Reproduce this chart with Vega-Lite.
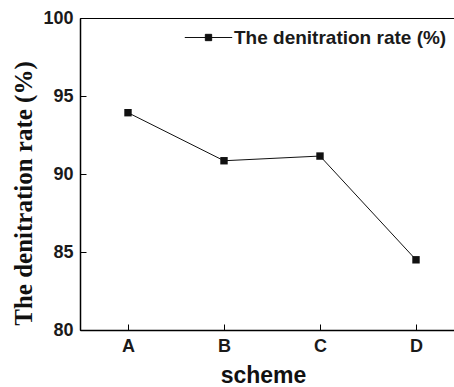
{
  "$schema": "https://vega.github.io/schema/vega-lite/v6.json",
  "width": 384,
  "height": 312,
  "autosize": {"type": "none"},
  "padding": {"left": 80, "top": 18, "right": 0, "bottom": 57},
  "background": "white",
  "config": {
    "view": {"stroke": "black", "strokeWidth": 1},
    "axis": {
      "domainColor": "black",
      "domainWidth": 1.5,
      "tickColor": "black",
      "tickSize": -6,
      "tickWidth": 1,
      "grid": false,
      "labelFont": "Liberation Sans",
      "labelFontSize": 18,
      "labelColor": "#1a1a1a",
      "labelFontWeight": "bold"
    }
  },
  "data": {
    "values": [
      {"scheme": "A", "rate": 93.93, "series": "The denitration rate (%)"},
      {"scheme": "B", "rate": 90.85, "series": "The denitration rate (%)"},
      {"scheme": "C", "rate": 91.15, "series": "The denitration rate (%)"},
      {"scheme": "D", "rate": 84.5, "series": "The denitration rate (%)"}
    ]
  },
  "mark": {"type": "line", "strokeWidth": 1, "point": {"shape": "square", "size": 55, "filled": true, "opacity": 1, "color": "#111"}},
  "encoding": {
    "x": {
      "field": "scheme",
      "type": "ordinal",
      "scale": {"type": "point", "padding": 0.5},
      "axis": {
        "title": "scheme",
        "titleFont": "Liberation Sans",
        "titleFontSize": 23,
        "titleFontWeight": "bold",
        "titleColor": "#111",
        "titleX": 183,
        "titleY": 52,
        "titleBaseline": "alphabetic",
        "labelAngle": 0,
        "labelPadding": 13
      }
    },
    "y": {
      "field": "rate",
      "type": "quantitative",
      "scale": {"domain": [80, 100], "nice": false, "zero": false},
      "axis": {
        "title": "The denitration rate (%)",
        "titleFont": "Liberation Serif",
        "titleFontSize": 25,
        "titleFontWeight": "bold",
        "titleColor": "#111",
        "titleX": -44,
        "titleY": 175,
        "titleAngle": -90,
        "titleBaseline": "bottom",
        "values": [80, 85, 90, 95, 100],
        "labelPadding": 13
      }
    },
    "color": {
      "field": "series",
      "type": "nominal",
      "scale": {"range": ["#111"]},
      "legend": {
        "title": null,
        "orient": "none",
        "legendX": 112,
        "legendY": 3,
        "symbolType": "M-1.5,0H1.5M-0.2,-0.2H0.2V0.2H-0.2Z",
        "symbolSize": 1000,
        "symbolStrokeWidth": 1,
        "symbolFillColor": "#111",
        "symbolStrokeColor": "#111",
        "labelFont": "Liberation Sans",
        "labelFontSize": 19,
        "labelColor": "#1a1a1a",
        "labelFontWeight": "bold",
        "labelOffset": 9,
        "labelLimit": 400
      }
    }
  }
}
